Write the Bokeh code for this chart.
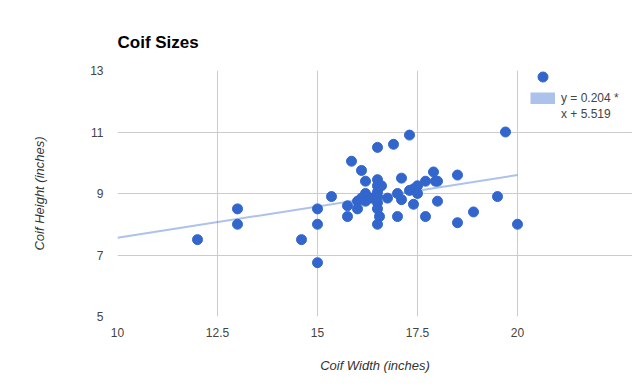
from bokeh.plotting import figure
from bokeh.models import FixedTicker, Legend, LegendItem, NumeralTickFormatter
from bokeh.embed import file_html
from bokeh.resources import INLINE

# ---- data ----
coif_width = [12.0, 13.0, 13.0, 14.6, 15.0, 15.0, 15.0, 15.35, 15.75, 15.75,
              15.85, 16.0, 16.0, 16.1, 16.2, 16.1, 16.2, 16.2, 16.35, 16.5,
              16.5, 16.5, 16.5, 16.5, 16.5, 16.5, 16.55, 16.5, 16.6, 16.75,
              16.9, 17.0, 17.0, 17.1, 17.1, 17.3, 17.3, 17.4, 17.4, 17.5,
              17.5, 17.7, 17.7, 17.9, 17.95, 18.0, 18.0, 18.5, 18.5, 18.9,
              19.5, 19.7, 20.0]
coif_height = [7.5, 8.5, 8.0, 7.5, 8.5, 8.0, 6.75, 8.9, 8.6, 8.25,
               10.05, 8.75, 8.5, 9.75, 9.4, 8.85, 9.0, 8.75, 8.85, 10.5,
               9.45, 9.25, 9.05, 8.9, 8.7, 8.5, 8.25, 8.0, 9.25, 8.85,
               10.6, 9.0, 8.25, 9.5, 8.8, 10.9, 9.1, 8.65, 9.15, 9.25,
               9.0, 9.4, 8.25, 9.7, 9.4, 9.4, 8.75, 9.6, 8.05, 8.4,
               8.9, 11.0, 8.0]
trend_slope = 0.204
trend_intercept = 5.519
x_ticks = [10, 12.5, 15, 17.5, 20]
y_ticks = [5, 7, 9, 11, 13]
title_text = "Coif Sizes"
x_title = "Coif Width (inches)"
y_title = "Coif Height (inches)"
trend_label_1 = f"y = {trend_slope} *"
trend_label_2 = f"x + {trend_intercept}"

FONT = "Liberation Sans"
BLUE = "#3366cc"
NAN = float("nan")
x_start, x_end = x_ticks[0], x_ticks[-1]
y_start, y_end = y_ticks[0], y_ticks[-1]

# layout: plot area of 400 px for x 10..20; extra room on the right holds the legend
W, H = 632, 382
LEFT, RIGHT, TOP, BOTTOM = 117, 0, 70, 66
plot_px = 400
frame_w = W - LEFT - RIGHT
x_view_end = x_start + (x_end - x_start) * frame_w / plot_px

p = figure(width=W, height=H, x_range=(x_start, x_view_end), y_range=(y_start, y_end),
           min_border_left=LEFT, min_border_right=RIGHT, min_border_top=TOP, min_border_bottom=BOTTOM,
           output_backend="svg", toolbar_location=None, title=title_text)
p.outline_line_color = None
p.background_fill_color = "white"
p.border_fill_color = "white"

p.title.text_font = FONT
p.title.text_font_size = "17px"
p.title.text_font_style = "bold"
p.title.text_color = "#000000"
p.title.align = "left"
p.title.standoff = 37

for ax in (p.xaxis, p.yaxis):
    ax.axis_line_color = None
    ax.major_tick_line_color = None
    ax.minor_tick_line_color = None
    ax.major_tick_out = 0
    ax.major_tick_in = 0
    ax.major_label_text_font = FONT
    ax.major_label_text_font_size = "12px"
    ax.major_label_text_color = "#444444"
    ax.axis_label_text_font = FONT
    ax.axis_label_text_font_size = "13px"
    ax.axis_label_text_font_style = "italic"
    ax.axis_label_text_color = "#333333"
    ax.formatter = NumeralTickFormatter(format="0.[0]")

p.xaxis.ticker = FixedTicker(ticks=x_ticks)
p.yaxis.ticker = FixedTicker(ticks=y_ticks)
p.xaxis.bounds = (x_start, x_end)
p.xaxis.axis_label = x_title
p.yaxis.axis_label = y_title
p.xaxis.major_label_standoff = 11
p.yaxis.major_label_standoff = 14
p.xaxis.axis_label_standoff = 18
p.yaxis.axis_label_standoff = 40

for g in (p.xgrid, p.ygrid):
    g.grid_line_color = "#cccccc"
    g.grid_line_width = 1
p.xgrid.ticker = FixedTicker(ticks=x_ticks)
p.ygrid.ticker = FixedTicker(ticks=y_ticks)
p.xgrid.bounds = (y_start, y_end)
p.ygrid.bounds = (x_start, x_end)

trend_x = [x_start, x_end]
trend_y = [trend_slope * v + trend_intercept for v in trend_x]
p.line(trend_x, trend_y, line_color=BLUE, line_alpha=0.4, line_width=2)

sc = p.scatter(coif_width, coif_height, size=10, fill_color=BLUE, line_color=BLUE)

# legend-only renderers (no visible data)
trend_key = p.line([NAN, NAN], [NAN, NAN], line_color=BLUE, line_alpha=0.4, line_width=12,
                   line_cap="butt")
blank_key = p.line([NAN, NAN], [NAN, NAN], line_alpha=0)

def style(lg, gw, gh, spacing):
    lg.padding = 0
    lg.margin = 0
    lg.spacing = spacing
    lg.glyph_width = gw
    lg.glyph_height = gh
    lg.label_standoff = 6
    lg.label_text_font = FONT
    lg.label_text_font_size = "12px"
    lg.label_text_color = "#444444"
    lg.border_line_alpha = 0
    lg.background_fill_alpha = 0

leg_dot = Legend(items=[LegendItem(label=" ", renderers=[sc])], location=(413, 227))
style(leg_dot, 25, 25, 0)
p.add_layout(leg_dot, "center")

leg_trend = Legend(items=[LegendItem(label=trend_label_1, renderers=[trend_key]),
                          LegendItem(label=trend_label_2, renderers=[blank_key])],
                   location=(413, 195))
style(leg_trend, 25, 12, 2)
p.add_layout(leg_trend, "center")

open("out.html", "w").write(file_html(p, INLINE))
